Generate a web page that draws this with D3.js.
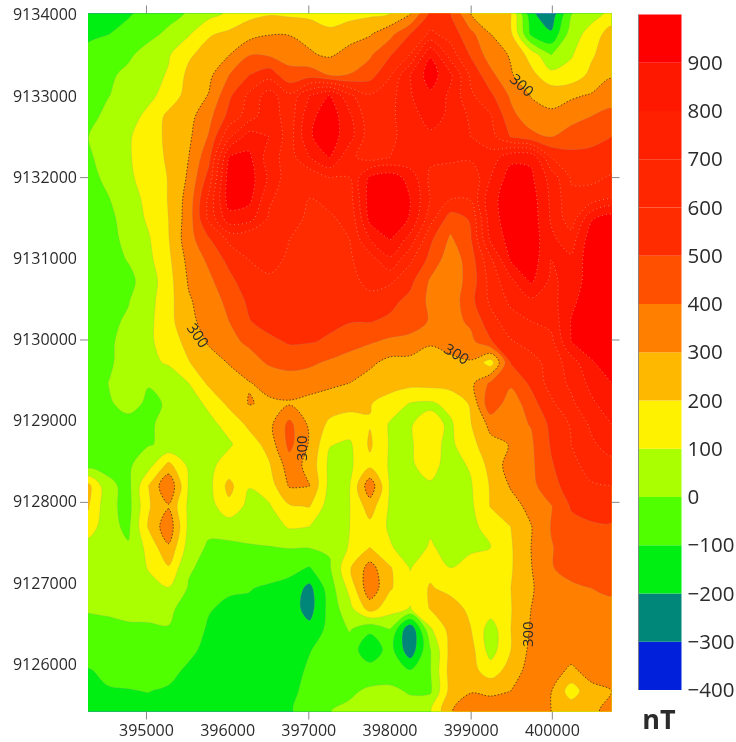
<!DOCTYPE html>
<html lang="en">
<head>
    <meta charset="UTF-8">
    <title>Magnetic anomaly map</title>
    <style>
        html, body { margin: 0; background: #fff; }
        svg { display: block; filter: blur(0.35px); }
        text { font-family: "Open Sans", sans-serif; fill: #2b2b2b; }
        .axis path { display: none; }
    </style>
</head>
<body>
    <svg id="map" width="736" height="742"></svg>

    <script src="https://d3js.org/d3.v7.min.js"></script>
    <script>
        const eastExtent = [394286, 400735];
        const northExtent = [9125418, 9134015];
        const eastLabels = [395000, 396000, 397000, 398000, 399000, 400000];
        const northLabels = [9126000, 9127000, 9128000, 9129000, 9130000, 9131000, 9132000, 9133000, 9134000];
        const eastTicks = [395000, 397000, 399000, 400000];
        const northTicks = [9128000, 9130000, 9132000];

        const levels = [-400, -300, -200, -100, 0, 100, 200, 300, 400, 500, 600, 700, 800, 900];
        const barTop = 1000;
        const colors = ["#0020dc", "#00877a", "#00ef12", "#50ff00", "#aaff00", "#fff200", "#ffb800", "#ff8000",
                        "#ff5000", "#ff2c00", "#ff2600", "#ff2000", "#ff1800", "#ff0000"];

        // contour labels, map coordinates
        const labelEast = [395628, 398818, 399619, 396934, 399717];
        const labelNorth = [9130041, 9129807, 9133121, 9128661, 9126370];
        const labelAngle = [55, 32, 42, -90, -90];

        // nT values, north to south, 27 columns west to east
        const anomaly = [
            [-150,-130,-110,-70,-30,8,65,115,170,190,180,170,160,165,180,200,290,520,500,300,250,205,-180,-270,-5,60,125],
            [-125,-102,-70,-25,18,90,190,220,260,295,295,275,220,260,290,370,500,620,560,430,300,220,-120,-185,50,140,250],
            [-65,-40,-15,35,90,185,240,295,395,385,365,310,285,335,385,490,600,890,650,490,350,290,160,-3,90,185,265],
            [-40,-15,20,60,110,225,275,400,500,560,430,460,400,405,460,590,800,950,820,580,430,310,230,135,140,225,290],
            [-30,-3,30,75,140,240,305,480,620,750,620,800,905,720,610,660,790,880,780,620,520,385,295,265,285,310,355],
            [-25,20,60,125,225,265,370,530,650,770,640,870,960,820,630,670,780,820,790,680,610,430,345,320,360,400,430],
            [-2,55,90,145,225,280,410,680,850,800,650,890,950,840,640,680,740,790,780,700,640,495,430,400,450,480,500],
            [-15,40,90,150,215,300,470,905,920,750,650,800,905,720,660,700,720,720,740,720,740,870,880,600,530,520,540],
            [-35,25,85,135,205,315,540,950,950,780,640,620,700,700,920,960,860,680,600,620,800,950,920,760,590,580,610],
            [-60,-5,60,125,205,340,620,950,930,720,630,600,620,660,950,980,900,700,610,610,870,950,950,780,620,640,700],
            [-70,-25,40,115,200,350,620,860,840,680,620,590,590,620,930,980,890,640,450,510,860,950,960,790,640,890,960],
            [-75,-30,25,90,195,360,490,620,600,620,600,580,580,600,800,905,760,520,385,490,820,940,960,820,750,960,990],
            [-70,-35,5,75,180,330,420,530,600,620,590,570,580,590,650,780,620,470,340,450,680,910,960,800,820,960,990],
            [-65,-30,-25,45,165,310,380,470,570,590,570,560,560,580,620,620,530,390,340,440,640,780,920,780,840,950,980],
            [-60,-30,-5,65,165,290,345,430,520,570,560,550,545,555,580,530,470,380,340,470,620,720,780,760,880,950,970],
            [-55,-20,12,75,165,280,330,400,495,540,540,530,515,505,505,480,460,390,360,420,560,660,700,730,905,960,980],
            [-50,-15,30,80,150,230,310,370,420,475,510,505,490,445,410,380,360,305,330,370,490,590,640,670,900,950,970],
            [-45,-10,25,70,115,195,260,305,355,415,435,420,385,350,320,270,270,280,280,290,150,505,560,640,750,890,950],
            [-60,0,25,3,15,100,220,260,295,330,350,340,320,300,260,240,230,235,240,270,420,420,520,640,720,830,900],
            [-60,-8,20,-10,5,65,115,225,305,285,290,270,250,235,205,160,95,85,130,210,480,340,460,580,680,780,860],
            [-60,-35,-20,-12,25,60,80,125,225,270,430,280,180,150,195,90,95,130,85,195,330,370,405,525,610,720,800],
            [-55,-30,-15,-5,15,45,70,90,145,240,430,290,105,85,215,90,95,125,80,165,270,305,385,510,600,680,750],
            [-45,-30,-15,60,230,80,80,135,155,190,350,270,75,85,175,90,90,130,65,110,235,345,380,490,570,640,660],
            [230,25,-30,200,390,90,70,230,105,150,310,302,70,98,370,90,80,90,75,90,210,310,370,470,540,590,600],
            [210,30,-35,190,290,80,55,175,70,90,190,205,50,98,250,85,50,40,60,80,205,260,330,395,510,530,545],
            [160,30,-20,210,370,75,25,40,50,50,110,100,30,100,170,85,40,85,50,80,130,200,295,405,470,490,490],
            [50,25,10,130,285,55,-15,-20,-10,-3,5,5,10,110,200,110,50,110,70,75,100,190,300,395,440,440,440],
            [50,50,45,105,190,10,-25,-35,-40,-50,-75,-105,-10,190,340,210,95,170,100,150,200,190,295,395,430,440,430],
            [30,30,35,75,95,-8,-60,-90,-95,-115,-130,-230,-50,130,370,210,130,210,170,140,135,200,290,355,385,400,410],
            [10,15,25,10,20,-40,-95,-115,-120,-130,-150,-240,-65,70,240,140,95,205,250,175,150,195,300,340,395,370,385],
            [-40,-25,-15,-5,-5,-60,-110,-125,-130,-140,-150,-170,-70,8,-80,0,-295,85,235,205,50,200,310,340,365,375,395],
            [-70,-60,-50,-35,-40,-80,-125,-140,-150,-150,-140,-105,-60,-50,-170,-60,-270,-5,230,240,55,200,325,345,350,360,385],
            [-105,-85,-75,-70,-75,-115,-145,-155,-160,-160,-140,-85,-50,-35,-55,-50,-95,-5,240,235,150,240,345,345,280,340,370],
            [-125,-105,-103,-98,-110,-130,-150,-160,-160,-150,-125,-70,-35,-15,15,20,-10,-15,235,295,280,300,340,305,150,270,300],
            [-135,-125,-120,-125,-130,-145,-155,-160,-150,-130,-105,-80,-2,20,30,35,40,90,295,340,360,350,320,300,270,280,330]
        ];

        const svg = d3.select("#map");
        const plotLeft = 88, plotRight = 611.5, plotTop = 13.5, plotBottom = 711.5;

        const x = d3.scaleLinear().domain(eastExtent).range([plotLeft, plotRight]);
        const y = d3.scaleLinear().domain(northExtent).range([plotBottom, plotTop]);

        const nx = anomaly[0].length, ny = anomaly.length;
        // grid index -> map coordinate
        const colEast = d3.scaleLinear().domain([0, nx - 1]).range(eastExtent);
        const rowNorth = d3.scaleLinear().domain([0, ny - 1]).range([northExtent[1], northExtent[0]]);

        const contours = d3.contours().size([nx, ny]).thresholds(levels)(anomaly.flat());

        svg.append("clipPath").attr("id", "plot-clip")
            .append("rect")
            .attr("x", plotLeft).attr("y", plotTop)
            .attr("width", plotRight - plotLeft).attr("height", plotBottom - plotTop);

        const ringLine = d3.line()
            .x(d => x(colEast(d[0] - 0.5)))
            .y(d => y(rowNorth(d[1] - 0.5)))
            .curve(d3.curveCatmullRomClosed.alpha(0.5));

        function contourPath(c) {
            return c.coordinates
                .flatMap(poly => poly.map(ring => ringLine(ring.slice(0, -1))))
                .join("");
        }

        const map = svg.append("g").attr("clip-path", "url(#plot-clip)");

        map.selectAll("path.band")
            .data(contours)
            .join("path")
            .attr("class", "band")
            .attr("fill-rule", "evenodd")
            .attr("fill", (d, i) => colors[i])
            .attr("d", contourPath);

        // contour lines: black dots at 300, pale dots in the red part, faint edge elsewhere
        map.selectAll("path.line")
            .data(contours.filter(c => c.value > -400))
            .join("path")
            .attr("class", "line")
            .attr("fill", "none")
            .attr("d", contourPath)
            .attr("stroke", d => d.value === 300 ? "#222" : d.value >= 600 ? "#f4d0c8" : "#999")
            .attr("stroke-width", d => d.value === 300 ? 0.9 : 0.7)
            .attr("stroke-opacity", d => d.value === 300 ? 0.8 : d.value >= 600 ? 0.7 : 0.3)
            .attr("stroke-dasharray", d => d.value === 300 ? "1.5 1.8" : d.value >= 600 ? "1 3" : null);

        svg.selectAll("text.contour-label")
            .data(labelEast)
            .join("text")
            .attr("class", "contour-label")
            .attr("text-anchor", "middle")
            .attr("dominant-baseline", "middle")
            .attr("font-size", 15)
            .attr("fill", "#111")
            .attr("transform", (d, i) => `translate(${x(d)},${y(labelNorth[i])}) rotate(${labelAngle[i]})`)
            .text("300");

        // labels and small ticks are separate: not every label has a tick
        const tickColor = "#888";
        svg.append("g").attr("class", "axis").attr("transform", `translate(0,${plotBottom + 8})`)
            .call(d3.axisBottom(x).tickValues(eastLabels).tickSize(0).tickFormat(d3.format("d")))
            .selectAll("text").attr("font-size", 16).attr("dy", "0.85em");
        svg.append("g").attr("class", "axis").attr("transform", `translate(${plotLeft - 8},0)`)
            .call(d3.axisLeft(y).tickValues(northLabels).tickSize(0).tickFormat(d3.format("d")))
            .selectAll("text").attr("font-size", 16);

        const tickAxes = [
            [d3.axisTop(x).tickValues(eastTicks), `translate(0,${plotTop})`],
            [d3.axisBottom(x).tickValues(eastTicks), `translate(0,${plotBottom})`],
            [d3.axisLeft(y).tickValues(northTicks), `translate(${plotLeft},0)`],
            [d3.axisRight(y).tickValues(northTicks), `translate(${plotRight},0)`]
        ];
        tickAxes.forEach(([axis, tr]) => {
            const g = svg.append("g").attr("class", "axis").attr("transform", tr)
                .call(axis.tickSize(8).tickFormat(""));
            g.selectAll("line").attr("stroke", tickColor);
        });

        // colour bar
        const barY = d3.scaleLinear().domain([levels[0], barTop]).range([690, 14.5]);
        const barLeft = 638.5, barRight = 681.5;

        svg.selectAll("rect.bar-band")
            .data(levels)
            .join("rect")
            .attr("class", "bar-band")
            .attr("x", barLeft)
            .attr("width", barRight - barLeft)
            .attr("y", (d, i) => barY(i + 1 < levels.length ? levels[i + 1] : barTop))
            .attr("height", (d, i) => barY(d) - barY(i + 1 < levels.length ? levels[i + 1] : barTop))
            .attr("fill", (d, i) => colors[i]);

        svg.append("line")
            .attr("x1", barLeft).attr("x2", barLeft)
            .attr("y1", barY(barTop)).attr("y2", barY(levels[0]))
            .attr("stroke", "#777").attr("stroke-width", 0.8);

        svg.append("g").attr("class", "axis").attr("transform", `translate(${barRight + 3},0)`)
            .call(d3.axisRight(barY).tickValues(levels).tickSize(0).tickFormat(d3.format("d")))
            .selectAll("text").attr("font-size", 20.5);

        svg.append("text")
            .attr("x", 659).attr("y", 729)
            .attr("text-anchor", "middle")
            .attr("font-size", 27)
            .attr("font-weight", "bold")
            .attr("fill", "#111")
            .text("nT");
    </script>
</body>
</html>
